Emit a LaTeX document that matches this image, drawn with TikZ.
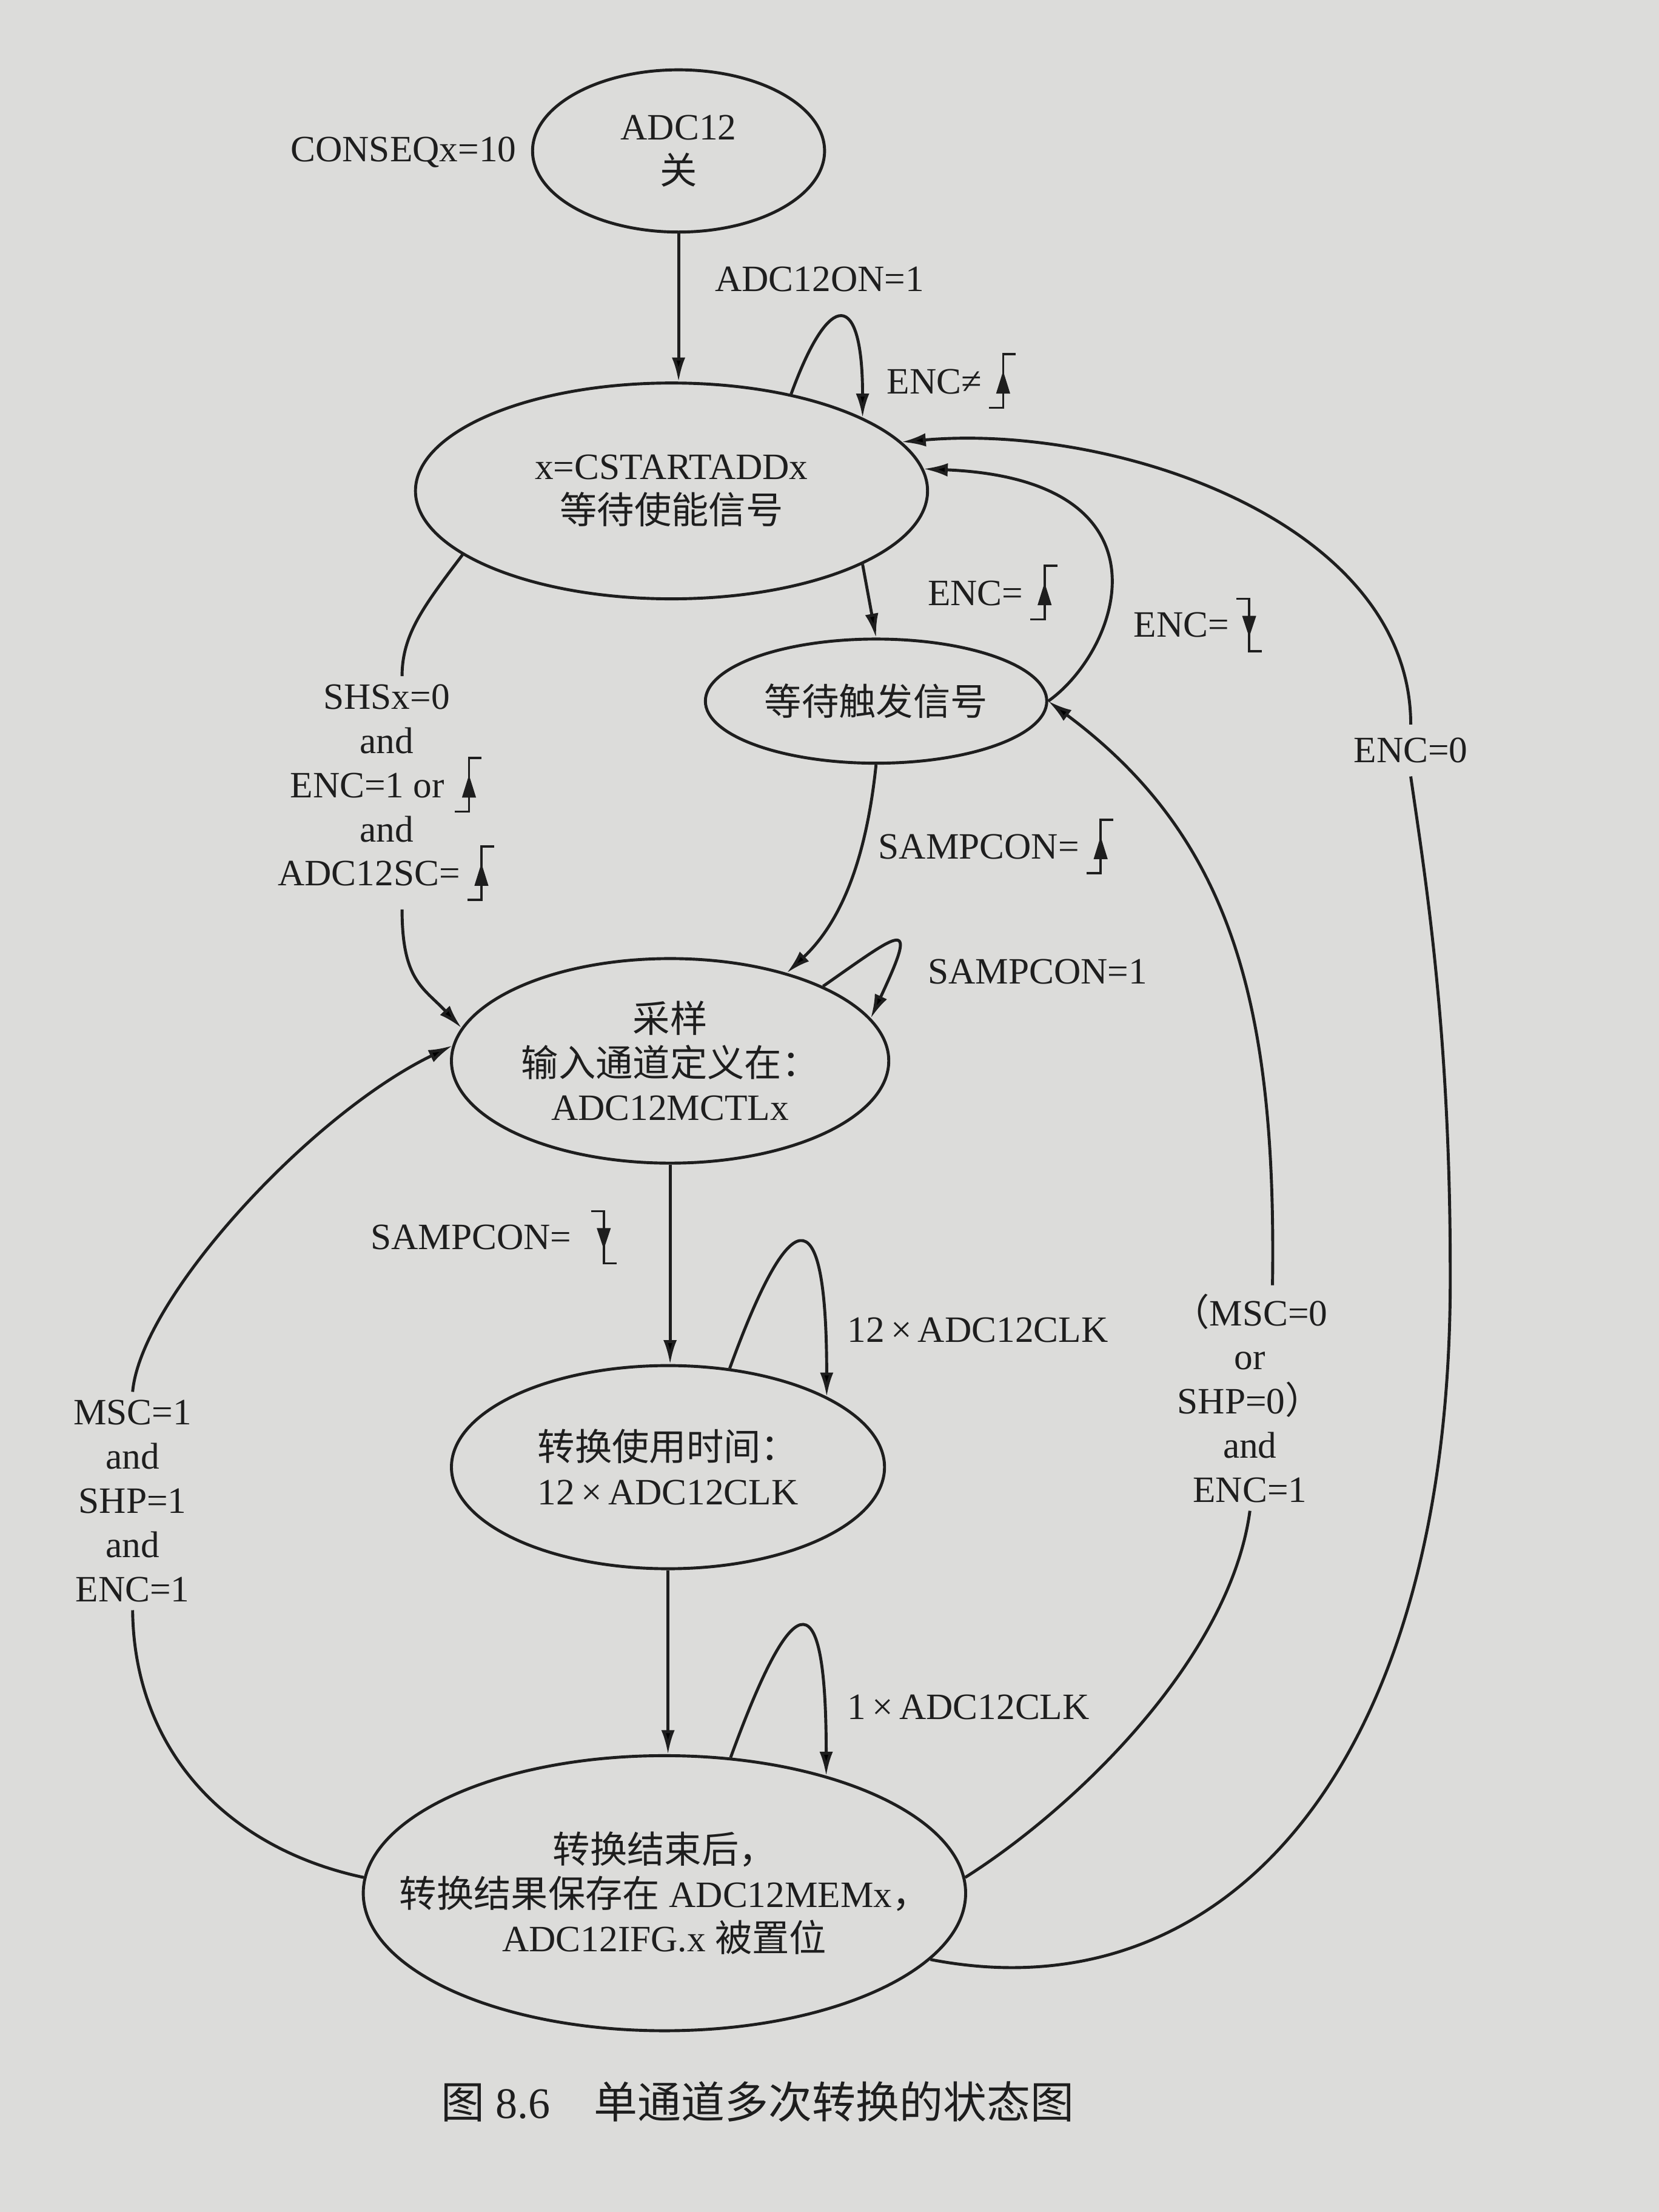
\documentclass[tikz,border=0pt]{standalone}
\usepackage{fontspec}
\setmainfont{Liberation Serif}
\newfontfamily\cjk{Noto Sans CJK SC}
\usetikzlibrary{shapes.geometric, arrows.meta, positioning}
\definecolor{paper}{HTML}{DCDCDA}
\definecolor{ink}{HTML}{1E1E1E}
\newcommand{\zh}[1]{{\cjk #1}}
\newcommand{\zw}[1]{\makebox[0pt]{#1}}
\newcommand{\edgeup}{\tikz[baseline=0pt,line width=0.45pt]{\draw (-0.1,-0.1) -- (0,-0.1) -- (0,0.28) -- (0.09,0.28); \fill (-0.05,0) -- (0.05,0) -- (0,0.16) -- cycle;}}
\newcommand{\edgedown}{\tikz[baseline=0pt,line width=0.45pt]{\draw (-0.09,0.27) -- (0,0.27) -- (0,-0.1) -- (0.09,-0.1); \fill (-0.05,0.15) -- (0.05,0.15) -- (0,0) -- cycle;}}

\begin{document}
\begin{tikzpicture}[
  state/.style={draw=ink, ellipse, line width=0.6pt, inner sep=0pt, align=center,
                font=\fontsize{7.5}{8.9}\selectfont, text=ink},
  arr/.style={-{Latex[length=1.7mm,width=0.95mm]}, line width=0.6pt, draw=ink},
  wire/.style={line width=0.6pt, draw=ink},
  lbl/.style={font=\fontsize{7.5}{8.9}\selectfont, text=ink, inner sep=0pt, align=center},
  cut/.style={lbl, inner sep=1.5pt}
]
\fill[paper] (0,0) rectangle (11.76,-15.68);

\node[state, minimum width=2.07cm, minimum height=1.15cm] (off)  at (4.81,-1.07)  {\zw{ADC12}\\\zw{\zh{关}}};
\node[state, minimum width=3.63cm, minimum height=1.53cm] (wen)  at (4.76,-3.48)  {\zw{x=CSTARTADDx}\\\zw{\zh{等待使能信号}}};
\node[state, minimum width=2.42cm, minimum height=0.88cm] (wtr)  at (6.21,-4.97)  {\zw{\zh{等待触发信号}}};
\node[state, minimum width=3.10cm, minimum height=1.45cm] (samp) at (4.75,-7.52)  {\zw{\zh{采样}}\\\zw{\zh{输入通道定义在：}}\\\zw{ADC12MCTLx}};
\node[state, minimum width=3.07cm, minimum height=1.44cm] (conv) at (4.735,-10.40) {\zw{\zh{转换使用时间：}}\\\zw{12\,×\,ADC12CLK}};
\node[state, minimum width=4.27cm, minimum height=1.95cm] (done) at (4.71,-13.42) {\zw{\zh{转换结束后，}}\\\zw{\zh{转换结果保存在} ADC12MEMx\zh{，}}\\\zw{ADC12IFG.x \zh{被置位}}};

\node[lbl] (conseq) at (2.86,-1.08) {CONSEQx=10};
\node[lbl] (adcon)  at (5.81,-1.98) {ADC12ON=1};
\node[lbl, anchor=west] (encne)  at (6.28,-2.70) {ENC≠\,\edgeup};
\node[lbl, anchor=west] (encup)  at (6.57,-4.20) {ENC=\,\edgeup};
\node[lbl, anchor=west] (encdn)  at (8.03,-4.43) {ENC=\,\edgedown};
\node[lbl, anchor=west] (samup)  at (6.22,-6.00) {SAMPCON=\,\edgeup};
\node[lbl, anchor=west] (samone) at (6.57,-6.89) {SAMPCON=1};
\node[lbl, anchor=west] (samdn)  at (2.62,-8.77) {SAMPCON=\enspace\edgedown};
\node[lbl, anchor=west] (clk12)  at (6.00,-9.43) {12\,×\,ADC12CLK};
\node[lbl, anchor=west] (clk1)   at (6.00,-12.10) {1\,×\,ADC12CLK};
\node[cut] (shs)  at (2.74,-5.62) {SHSx=0\\and\\ENC=1 or \edgeup\\and\\ADC12SC=\,\edgeup};
\node[cut] (msc)  at (0.94,-10.64) {MSC=1\\and\\SHP=1\\and\\ENC=1};
\node[cut] (cond) at (8.86,-9.91) {\zh{（}MSC=0\\or\\SHP=0\zh{）}\\and\\ENC=1};
\node[cut, inner sep=2.5pt] (enc0) at (10.0,-5.32) {ENC=0};
\node[lbl, font=\fontsize{8.8}{10}\selectfont] (cap) at (5.37,-14.90) {\zh{图} 8.6\hspace{1em}\zh{单通道多次转换的状态图}};

\draw[arr] (off.south) -- (off.south |- wen.north);
\draw[arr] (wen.39) .. controls +(70:0.8) and +(90:0.9) .. (wen.21);
\draw[arr] (wen.-21) -- (wtr.north);
\draw[arr] (wtr.east) .. controls (7.95,-4.6) and (8.35,-3.4) .. (wen.5);
\draw[wire] (wen.197) .. controls (3.0,-4.3) and (2.85,-4.5) .. ([xshift=1.1mm]shs.north);
\draw[arr] ([xshift=1.1mm]shs.south) .. controls (2.85,-6.95) and (3.0,-7.0) .. (samp.171);
\draw[arr] (wtr.south) .. controls (6.15,-6.0) and (6.0,-6.5) .. (samp.37);
\draw[arr] (samp.26) .. controls +(35:0.7) and +(65:0.8) .. (samp.12);
\draw[arr] (samp.south) -- (samp.south |- conv.north);
\draw[arr] (conv.58) .. controls +(70:1.2) and +(90:1.5) .. (conv.24);
\draw[arr] (conv.south) -- (conv.south |- done.north);
\draw[arr] (done.64) .. controls +(70:1.2) and +(90:1.5) .. (done.36);
\draw[wire] (done.177) .. controls (1.6,-13.1) and (0.95,-12.4) .. (msc.south);
\draw[arr] (msc.north) .. controls (1.0,-9.2) and (2.2,-7.9) .. (samp.176);
\draw[wire] (done.3) .. controls (7.63,-12.81) and (8.72,-11.75) .. (cond.south);
\draw[arr] ([xshift=1.6mm]cond.north) .. controls (9.05,-7.10) and (8.72,-5.93) .. (wtr.east);
\draw[wire] (done.-14) .. controls (8.7,-14.3) and (10.3,-12.5) .. (10.28,-9.0)
            .. controls (10.28,-7.3) and (10.1,-6.2) .. (enc0.south);
\draw[arr] (enc0.north) .. controls (10.0,-3.7) and (7.9,-3.0) .. (wen.12);
\end{tikzpicture}
\end{document}
